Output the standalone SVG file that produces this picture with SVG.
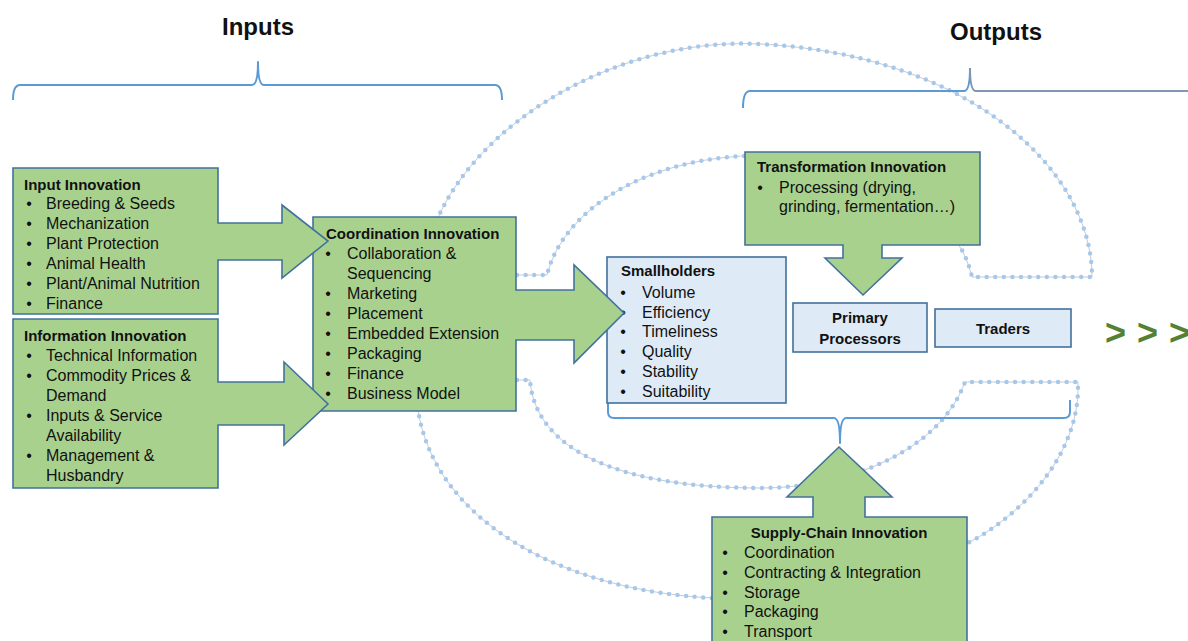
<svg xmlns="http://www.w3.org/2000/svg" width="1188" height="641" viewBox="0 0 1188 641">
<style>
.bg{fill:#ffffff}
.core{fill:none;stroke:#b7bec6;stroke-width:0.8}
.dots{fill:none;stroke:#a7c8ea;stroke-width:4.5;stroke-linecap:round;stroke-dasharray:0 8.6}
.brace{fill:none;stroke:#5b9bd5;stroke-width:2;stroke-linejoin:round}
.green{fill:#a9d18e;stroke:#41719c;stroke-width:1.6;stroke-linejoin:miter}
.blue{fill:#deebf7;stroke:#41719c;stroke-width:1.6}
text{font-family:"Liberation Sans",Arial,sans-serif;fill:#111111}
.t{font-size:15px;font-weight:bold}
.i{font-size:16px}
.bu{font-size:16px;text-anchor:middle}
.c{text-anchor:middle}
.h{font-size:24px;font-weight:bold;text-anchor:middle}
.gt{font-size:36px;font-weight:bold;fill:#548235}
</style>
<rect class="bg" x="0" y="0" width="1188" height="641"/>

<g id="connectors">
  <g id="cycle-top">
    <path class="core" d="M 517 275 L 547 275 A 215 142 0 0 1 972 277 L 1092 277 C 1092 170 970 55 760 44 C 620 37 480 120 437 220 L 437 240"/>
    <path class="dots" d="M 517 275 L 547 275 A 215 142 0 0 1 972 277 L 1092 277 C 1092 170 970 55 760 44 C 620 37 480 120 437 220 L 437 240"/>
  </g>
  <g id="cycle-bottom">
    <path class="core" d="M 517 380 L 530 380 C 535 450 620 488 760 488 C 850 488 940 450 965 382 L 1078 382 L 1078 388 C 1078 450 1030 510 968 543 C 900 580 800 605 712 598 C 560 590 435 520 418 410"/>
    <path class="dots" d="M 517 380 L 530 380 C 535 450 620 488 760 488 C 850 488 940 450 965 382 L 1078 382 L 1078 388 C 1078 450 1030 510 968 543 C 900 580 800 605 712 598 C 560 590 435 520 418 410"/>
  </g>
  <g id="braces">
    <path class="brace" d="M 13 100 Q 13 85 20 85 L 252 85 Q 258 85 258 62 Q 258 85 264 85 L 495 85 Q 502 85 502 100"/>
    <path class="brace" d="M 743 108 Q 743 91 750 91 L 964 91 Q 970 91 970 68"/>
    <path class="brace" style="stroke:#7f97b4" d="M 970 68 Q 970 91 976 91 L 1188 91"/>
    <path class="brace" d="M 608 400 L 608 412 Q 608 418 614 418 L 834 418 Q 840 418 840 443 Q 840 418 846 418 L 1064 418 Q 1070 418 1070 412 L 1070 400"/>
  </g>
</g>

<g id="smallholders">
  <rect class="blue" x="607" y="257" width="179" height="146"/>
  <text class="t" x="621" y="276">Smallholders</text>
  <text class="bu" x="623" y="298">•</text><text class="i" x="642" y="298">Volume</text>
  <text class="bu" x="623" y="318">•</text><text class="i" x="642" y="318">Efficiency</text>
  <text class="bu" x="623" y="337">•</text><text class="i" x="642" y="337">Timeliness</text>
  <text class="bu" x="623" y="357">•</text><text class="i" x="642" y="357">Quality</text>
  <text class="bu" x="623" y="377">•</text><text class="i" x="642" y="377">Stability</text>
  <text class="bu" x="623" y="397">•</text><text class="i" x="642" y="397">Suitability</text>
</g>

<g id="primary-processors">
  <rect class="blue" x="793" y="303" width="134" height="49"/>
  <text class="t c" x="860" y="323">Primary</text>
  <text class="t c" x="860" y="344">Processors</text>
</g>

<g id="traders">
  <rect class="blue" x="935" y="309" width="136" height="38"/>
  <text class="t c" x="1003" y="334">Traders</text>
</g>

<g id="continuation">
  <text class="gt" x="1105 1121 1137 1153 1169" y="345">&gt; &gt; &gt;</text>
</g>

<g id="transformation-innovation">
  <polygon class="green" points="745,152 980,152 980,245 882,245 882,258 902,258 863,295 825,258 843,258 843,245 745,245"/>
  <text class="t" x="757" y="172">Transformation Innovation</text>
  <text class="bu" x="760" y="193">•</text><text class="i" x="779" y="193">Processing (drying,</text>
  <text class="i" x="779" y="212">grinding, fermentation…)</text>
</g>

<g id="supply-chain-innovation">
  <polygon class="green" points="712,517 813,517 813,497 787,497 839,447 892,497 865,497 865,517 967,517 967,646 712,646"/>
  <text class="t c" x="839" y="538">Supply-Chain Innovation</text>
  <text class="bu" x="725" y="558">•</text><text class="i" x="744" y="558">Coordination</text>
  <text class="bu" x="725" y="578">•</text><text class="i" x="744" y="578">Contracting &amp; Integration</text>
  <text class="bu" x="725" y="598">•</text><text class="i" x="744" y="598">Storage</text>
  <text class="bu" x="725" y="617">•</text><text class="i" x="744" y="617">Packaging</text>
  <text class="bu" x="725" y="637">•</text><text class="i" x="744" y="637">Transport</text>
</g>

<g id="coordination-innovation">
  <polygon class="green" points="313,217 516,217 516,290 574,290 574,265 624,313 574,363 574,340 516,340 516,411 313,411"/>
  <text class="t" x="326" y="239">Coordination Innovation</text>
  <text class="bu" x="328" y="259">•</text><text class="i" x="347" y="259">Collaboration &amp;</text>
  <text class="i" x="347" y="279">Sequencing</text>
  <text class="bu" x="328" y="299">•</text><text class="i" x="347" y="299">Marketing</text>
  <text class="bu" x="328" y="319">•</text><text class="i" x="347" y="319">Placement</text>
  <text class="bu" x="328" y="339">•</text><text class="i" x="347" y="339">Embedded Extension</text>
  <text class="bu" x="328" y="359">•</text><text class="i" x="347" y="359">Packaging</text>
  <text class="bu" x="328" y="379">•</text><text class="i" x="347" y="379">Finance</text>
  <text class="bu" x="328" y="399">•</text><text class="i" x="347" y="399">Business Model</text>
</g>

<g id="input-innovation">
  <polygon class="green" points="13,168 218,168 218,223 282,223 282,205 328,241 282,278 282,260 218,260 218,314 13,314"/>
  <text class="t" x="24" y="190">Input Innovation</text>
  <text class="bu" x="29" y="209">•</text><text class="i" x="46" y="209">Breeding &amp; Seeds</text>
  <text class="bu" x="29" y="229">•</text><text class="i" x="46" y="229">Mechanization</text>
  <text class="bu" x="29" y="249">•</text><text class="i" x="46" y="249">Plant Protection</text>
  <text class="bu" x="29" y="269">•</text><text class="i" x="46" y="269">Animal Health</text>
  <text class="bu" x="29" y="289">•</text><text class="i" x="46" y="289">Plant/Animal Nutrition</text>
  <text class="bu" x="29" y="309">•</text><text class="i" x="46" y="309">Finance</text>
</g>

<g id="information-innovation">
  <polygon class="green" points="13,319 218,319 218,382 284,382 284,362 328,404 284,445 284,425 218,425 218,488 13,488"/>
  <text class="t" x="24" y="341">Information Innovation</text>
  <text class="bu" x="29" y="361">•</text><text class="i" x="46" y="361">Technical Information</text>
  <text class="bu" x="29" y="381">•</text><text class="i" x="46" y="381">Commodity Prices &amp;</text>
  <text class="i" x="46" y="401">Demand</text>
  <text class="bu" x="29" y="421">•</text><text class="i" x="46" y="421">Inputs &amp; Service</text>
  <text class="i" x="46" y="441">Availability</text>
  <text class="bu" x="29" y="461">•</text><text class="i" x="46" y="461">Management &amp;</text>
  <text class="i" x="46" y="481">Husbandry</text>
</g>

<g id="headers">
  <text class="h" x="258" y="35">Inputs</text>
  <text class="h" x="996" y="40">Outputs</text>
</g>
</svg>
